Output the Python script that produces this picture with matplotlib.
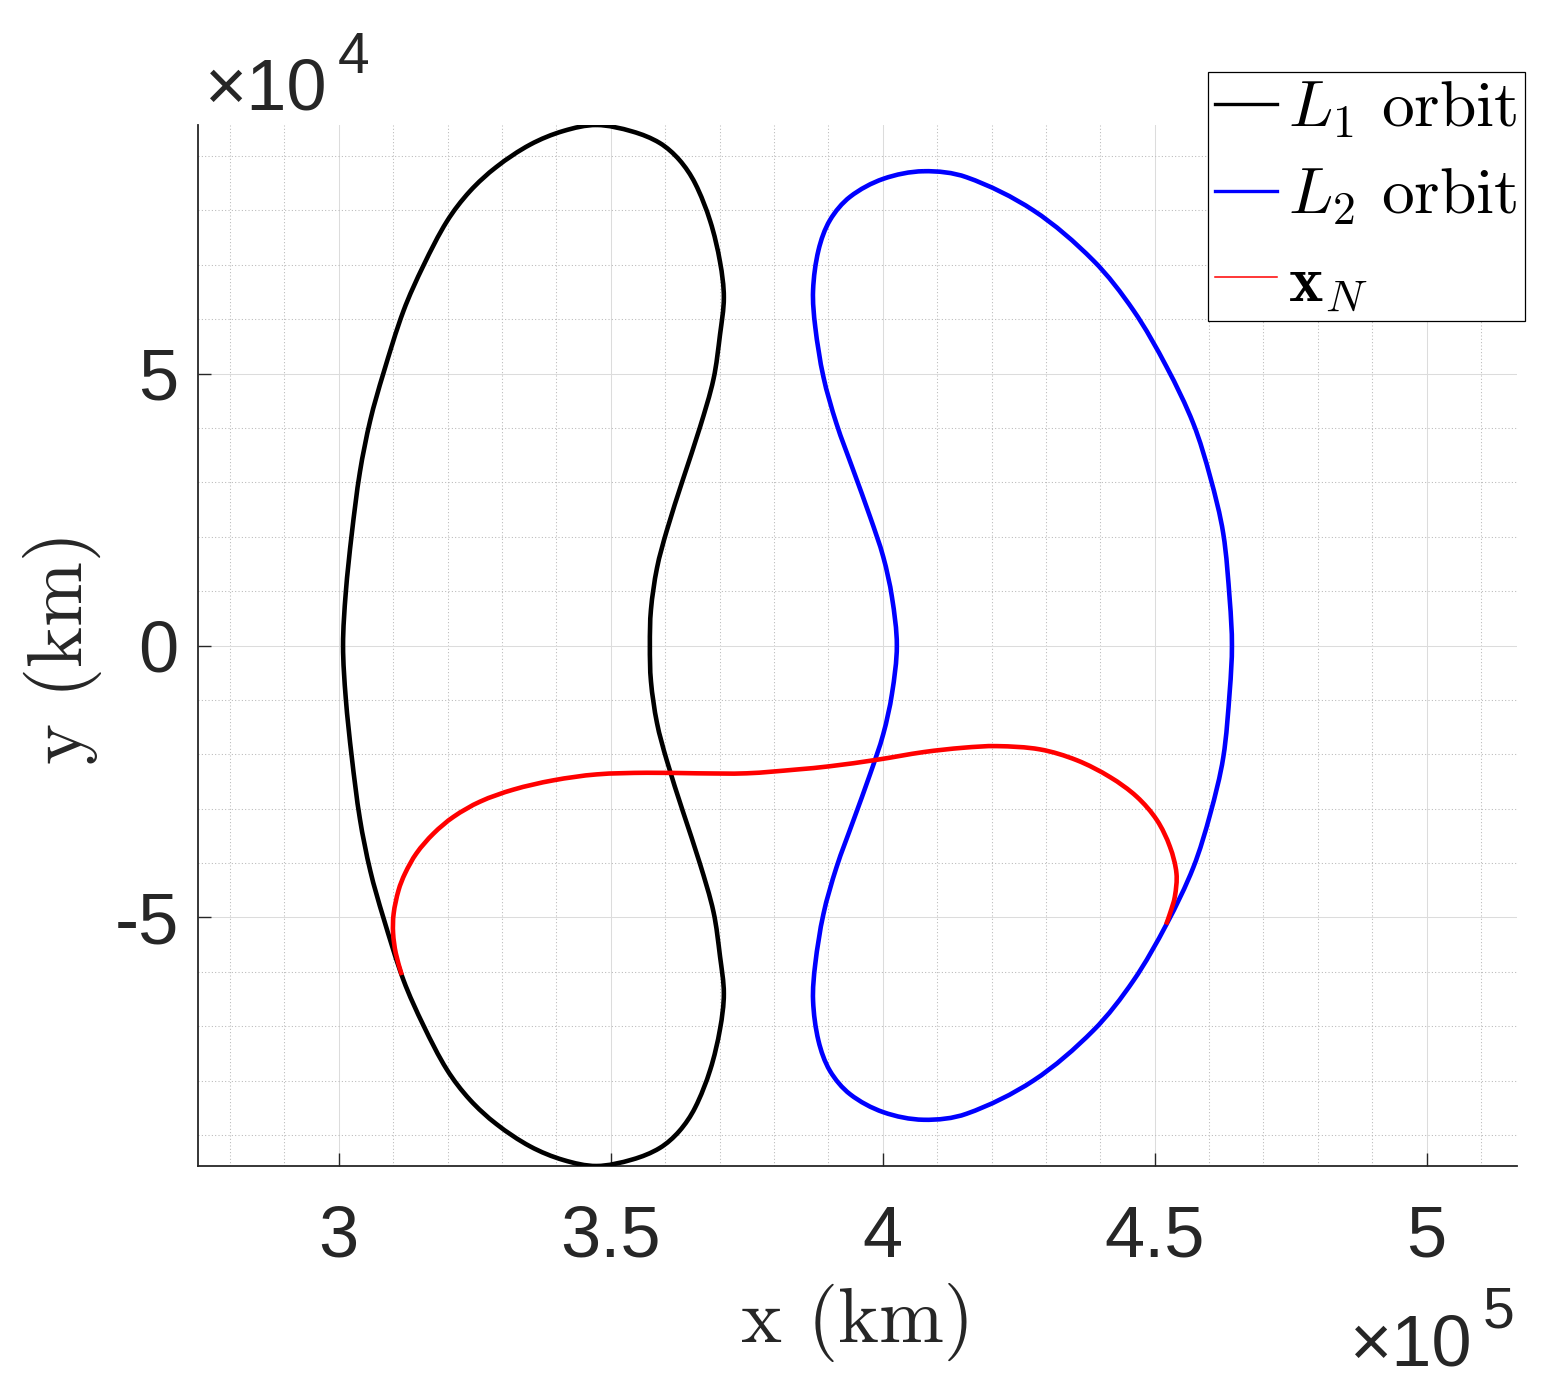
import numpy as np
import matplotlib
matplotlib.use('Agg')
import matplotlib.pyplot as plt
from matplotlib.lines import Line2D
from matplotlib.path import Path
from matplotlib.patches import PathPatch
from matplotlib.ticker import MultipleLocator

plt.rcParams['mathtext.fontset'] = 'cm'

# Orbites : x en 1e5 km, y en 1e4 km (orbites symétriques en y)
l1_x = [3.474, 3.413, 3.352, 3.290, 3.241, 3.199, 3.156, 3.119, 3.082, 3.058, 3.039, 3.024, 3.013, 3.008,
        3.013, 3.024, 3.039, 3.058, 3.082, 3.119, 3.156, 3.199, 3.241, 3.290, 3.352, 3.413, 3.474,
        3.540, 3.590, 3.626, 3.655, 3.683, 3.701, 3.708, 3.701, 3.689, 3.664, 3.633, 3.603, 3.585, 3.574,
        3.572,
        3.574, 3.585, 3.603, 3.633, 3.664, 3.689, 3.701, 3.708, 3.701, 3.683, 3.655, 3.626, 3.590, 3.540,
        3.474]
l1_y = [9.57, 9.46, 9.21, 8.80, 8.35, 7.80, 6.99, 6.15, 5.00, 4.14, 3.19, 2.05, 0.97, 0.00,
        -0.97, -2.05, -3.19, -4.14, -5.00, -6.15, -6.99, -7.80, -8.35, -8.80, -9.21, -9.46, -9.57,
        -9.45, -9.24, -8.93, -8.50, -7.80, -7.05, -6.40, -5.72, -4.90, -4.01, -3.06, -2.11, -1.42, -0.66,
        0.00,
        0.66, 1.42, 2.11, 3.06, 4.01, 4.90, 5.72, 6.40, 7.05, 7.80, 8.50, 8.93, 9.24, 9.45,
        9.57]

l2_x = [4.075, 4.001, 3.940, 3.903, 3.882, 3.872, 3.876, 3.891, 3.915, 3.946, 3.977, 4.001, 4.017, 4.026,
        4.017, 4.001, 3.977, 3.946, 3.915, 3.891, 3.876, 3.872, 3.882, 3.903, 3.940, 4.001, 4.075,
        4.154, 4.277, 4.387, 4.461, 4.522, 4.571, 4.602, 4.626, 4.638, 4.642,
        4.638, 4.626, 4.602, 4.571, 4.522, 4.461, 4.387, 4.277, 4.154, 4.075]
l2_y = [8.72, 8.58, 8.25, 7.82, 7.27, 6.53, 5.86, 4.94, 4.08, 3.22, 2.36, 1.63, 0.89, 0.00,
        -0.89, -1.63, -2.36, -3.22, -4.08, -4.94, -5.86, -6.53, -7.27, -7.82, -8.25, -8.58, -8.72,
        -8.61, -8.00, -7.08, -6.16, -5.12, -4.08, -3.10, -2.06, -0.83, 0.00,
        0.83, 2.06, 3.10, 4.08, 5.12, 6.16, 7.08, 8.00, 8.61, 8.72]

# Trajectoire de transfert x_N
xn_x = [3.116, 3.105, 3.100, 3.101, 3.110, 3.122, 3.143, 3.174, 3.211, 3.260, 3.321, 3.394,
        3.474, 3.566, 3.658, 3.750, 3.842, 3.903, 3.990, 4.075, 4.148, 4.210, 4.289, 4.357, 4.418,
        4.467, 4.504, 4.528, 4.540, 4.537, 4.528, 4.521]
xn_y = [-6.06, -5.66, -5.29, -4.93, -4.50, -4.19, -3.82, -3.46, -3.15, -2.87, -2.65, -2.48,
        -2.37, -2.34, -2.35, -2.35, -2.28, -2.22, -2.10, -1.96, -1.88, -1.85, -1.91, -2.11, -2.42,
        -2.78, -3.21, -3.70, -4.19, -4.62, -4.93, -5.13]

x_ticks = [3.0, 3.5, 4.0, 4.5, 5.0]
x_tick_labels = ['3', '3.5', '4', '4.5', '5']
y_ticks = [-5, 0, 5]
y_tick_labels = ['-5', '0', '5']


def smooth_path(xs, ys, closed):
    # courbe lisse (Catmull-Rom cordale -> Bezier) passant par les points lus
    p = np.column_stack([np.array(xs) * 1e5, np.array(ys) * 1e4])
    if closed:
        p = p[:-1]
        n = len(p)
        get = lambda i: p[i % n]
        nseg = n
    else:
        n = len(p)
        get = lambda i: p[min(max(i, 0), n - 1)]
        nseg = n - 1

    def tangent(i):
        a, b, c = get(i - 1), get(i), get(i + 1)
        d = np.hypot(*(b - a)) + np.hypot(*(c - b))
        return (c - a) / d if d > 0 else np.zeros(2)

    verts = [get(0)]
    codes = [Path.MOVETO]
    for i in range(nseg):
        p1, p2 = get(i), get(i + 1)
        L = np.hypot(*(p2 - p1))
        verts += [p1 + tangent(i) * L / 3, p2 - tangent(i + 1) * L / 3, p2]
        codes += [Path.CURVE4] * 3
    return Path(verts, codes)


W, H = 1545, 1398
fig = plt.figure(figsize=(W / 100, H / 100), dpi=100)
ax = fig.add_axes([198.3 / W, 1 - 1166 / H, (1517 - 198.3) / W, (1166 - 125) / H])

lw = 3.3
ax.add_patch(PathPatch(smooth_path(l1_x, l1_y, True), fill=False, edgecolor='black', lw=lw, zorder=3))
ax.add_patch(PathPatch(smooth_path(l2_x, l2_y, True), fill=False, edgecolor='blue', lw=lw, zorder=3))
ax.add_patch(PathPatch(smooth_path(xn_x, xn_y, False), fill=False, edgecolor='red', lw=lw, zorder=4,
                       capstyle='butt'))

ax.set_xlim(2.7419e5, 5.166e5)
ax.set_ylim(-9.57e4, 9.57e4)

gray = '#262626'
ax.set_xticks(np.array(x_ticks) * 1e5, x_tick_labels)
ax.set_yticks(np.array(y_ticks) * 1e4, y_tick_labels)
ax.xaxis.set_minor_locator(MultipleLocator(1e4))
ax.yaxis.set_minor_locator(MultipleLocator(1e4))
ax.tick_params(which='major', direction='in', length=9.4, width=1.0, color=gray, labelcolor=gray,
               labelsize=52)
ax.tick_params(axis='x', which='major', pad=28)
ax.tick_params(axis='y', which='major', pad=14)
ax.tick_params(which='minor', length=0)
for lab in ax.get_xticklabels() + ax.get_yticklabels():
    lab.set_family('Liberation Sans')

ax.grid(True, which='major', color='#dcdcdc', lw=0.75, ls='-')
ax.grid(True, which='minor', color='#b8b8b8', lw=0.75, ls=(0, (1, 2.2)))
ax.set_axisbelow(True)

for s in ['top', 'right']:
    ax.spines[s].set_visible(False)
for s in ['left', 'bottom']:
    ax.spines[s].set_color(gray)
    ax.spines[s].set_linewidth(1.3)

# Labels des axes (style LaTeX)
fig.text(857.5 / W, 1 - 1322 / H, 'x (km)', family='cmr10', fontsize=56, color=gray,
         ha='center', va='center')
fig.text(62 / W, 1 - 647 / H, 'y (km)', family='cmr10', fontsize=56, color=gray,
         ha='center', va='center', rotation=90)

# Facteurs d'échelle
fig.text(205 / W, 1 - 110 / H, '×10', family='Liberation Sans', fontsize=52, color=gray,
         ha='left', va='baseline')
fig.text(338 / W, 1 - 73 / H, '4', family='Liberation Sans', fontsize=41, color=gray,
         ha='left', va='baseline')
fig.text(1350 / W, 1 - 1365 / H, '×10', family='Liberation Sans', fontsize=52, color=gray,
         ha='left', va='baseline')
fig.text(1483 / W, 1 - 1328 / H, '5', family='Liberation Sans', fontsize=41, color=gray,
         ha='left', va='baseline')

handles = [Line2D([], [], color='black', lw=2.4),
           Line2D([], [], color='blue', lw=2.4),
           Line2D([], [], color='red', lw=1.1)]
labels = [r'$L_1$ orbit', r'$L_2$ orbit', r'$\mathbf{x}_N$']
leg = fig.legend(handles, labels, loc='upper right', bbox_to_anchor=(1525 / W, 1 - 71.7 / H),
                 bbox_transform=fig.transFigure, borderaxespad=0, prop={'family': 'cmr10', 'size': 47},
                 handlelength=0.95, handletextpad=0.16, borderpad=0.12, labelspacing=0.42,
                 fancybox=False, framealpha=1)
leg.get_frame().set_edgecolor('black')
leg.get_frame().set_linewidth(0.9)

fig.savefig('out.png', dpi=100)
